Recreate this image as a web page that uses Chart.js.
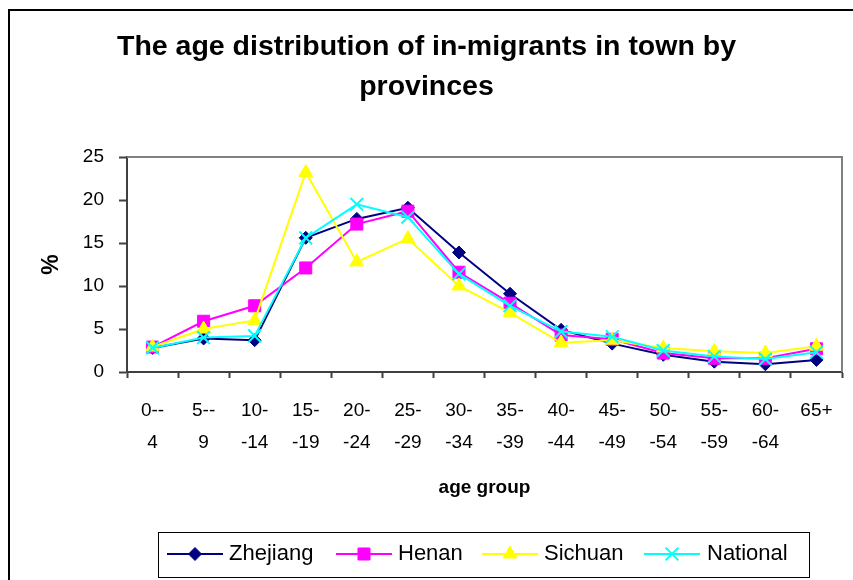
<!DOCTYPE html>
<html><head><meta charset="utf-8">
<script src="https://cdn.jsdelivr.net/npm/chart.js@4.4.1/dist/chart.umd.min.js"></script>
<style>
html,body{margin:0;padding:0;background:#fff;overflow:hidden;}
#wrap{position:relative;width:853px;height:580px;overflow:hidden;}
#frame{position:absolute;left:8px;top:9px;width:900px;height:700px;border:2px solid #000;box-sizing:border-box;pointer-events:none;}
canvas{position:absolute;left:0;top:0;}
</style></head><body>
<div id="wrap"><canvas id="c" width="853" height="580"></canvas><div id="frame"></div></div>
<script>
const categories = [["0--","4"],["5--","9"],["10-","-14"],["15-","-19"],["20-","-24"],["25-","-29"],["30-","-34"],["35-","-39"],["40-","-44"],["45-","-49"],["50-","-54"],["55-","-59"],["60-","-64"],["65+"]];
const zhejiang = [2.8,3.9,3.7,15.6,17.8,19.1,13.9,9.1,4.9,3.3,2.0,1.2,0.9,1.4];
const henan    = [2.9,5.9,7.7,12.1,17.2,18.7,11.6,8.0,4.3,3.8,2.2,1.6,1.6,2.7];
const sichuan  = [2.9,5.0,6.0,23.2,12.8,15.5,10.0,6.9,3.4,3.7,2.8,2.4,2.2,3.0];
const national = [2.8,4.0,4.2,15.6,19.5,18.0,11.4,7.7,4.7,4.1,2.5,1.8,1.5,2.3];
const yTicks = [0,5,10,15,20,25];
const seriesNames = ["Zhejiang","Henan","Sichuan","National"];

const FONT = "'Liberation Sans', Arial, sans-serif";
const styles = [
  {color:'#000080', pointStyle:'rectRot', radius:6.5, bw:1},
  {color:'#FF00FF', pointStyle:'rect', radius:8.5, bw:1},
  {color:'#FFFF00', pointStyle:'triangle', radius:8, bw:1},
  {color:'#00FFFF', pointStyle:'crossRot', radius:9, bw:2}
];
const seriesData = [zhejiang, henan, sichuan, national];

const datasets = seriesNames.map((n,i)=>({
  label:n, data:seriesData[i],
  borderColor:styles[i].color, backgroundColor:styles[i].color,
  pointStyle:styles[i].pointStyle, pointRadius:styles[i].radius,
  pointBorderWidth:styles[i].bw, pointBackgroundColor:styles[i].color, pointBorderColor:styles[i].color,
  borderWidth:2, tension:0, order:3-i
}));

const framePlugin = {
  id:'frame',
  beforeDatasetsDraw(chart){
    const {ctx, chartArea:a} = chart;
    ctx.save();
    ctx.strokeStyle='#808080'; ctx.lineWidth=2;
    ctx.beginPath();
    ctx.moveTo(a.left, a.top); ctx.lineTo(a.right, a.top); ctx.lineTo(a.right, a.bottom);
    ctx.stroke();
    ctx.restore();
  }
};

const legendPlugin = {
  id:'customLegend',
  afterDraw(chart){
    const ctx = chart.ctx;
    ctx.save();
    ctx.strokeStyle='#000'; ctx.lineWidth=1;
    ctx.strokeRect(158.5, 532.5, 651, 45);
    const lineX = [167, 336, 482, 644];
    const textX = [229, 398, 544, 707];
    const cy = 554;
    ctx.font = "22px " + FONT;
    ctx.textBaseline='middle';
    ctx.fillStyle='#000';
    chart.data.datasets.forEach((ds,i)=>{
      ctx.strokeStyle = ds.borderColor; ctx.lineWidth=2;
      ctx.beginPath(); ctx.moveTo(lineX[i], cy); ctx.lineTo(lineX[i]+56, cy); ctx.stroke();
      ctx.fillStyle = ds.pointBackgroundColor; ctx.strokeStyle = ds.pointBorderColor; ctx.lineWidth = ds.pointBorderWidth;
      Chart.helpers.drawPoint(ctx, {pointStyle: ds.pointStyle, radius: ds.pointRadius, rotation:0, borderWidth: ds.pointBorderWidth}, lineX[i]+28, cy);
      ctx.fillStyle='#000';
      ctx.fillText(ds.label, textX[i], cy);
    });
    ctx.restore();
  }
};

new Chart(document.getElementById('c'), {
  type:'line',
  data:{labels:categories, datasets},
  options:{
    responsive:false, devicePixelRatio:1, animation:false,
    layout:{padding:{left:10, right:10, top:0, bottom:68}},
    plugins:{
      legend:{display:false}, tooltip:{enabled:false},
      title:{display:true, text:['The age distribution of in-migrants in town by','provinces'],
        color:'#000', font:{family:FONT, size:28.5, weight:'bold', lineHeight:40/28.5}, padding:{top:27, bottom:50}}
    },
    scales:{
      x:{
        type:'category', offset:true,
        grid:{offset:true, drawOnChartArea:false, drawTicks:true, tickLength:6, tickColor:'#404040', tickWidth:2},
        border:{color:'#404040', width:2},
        ticks:{color:'#000', font:{family:FONT, size:19, lineHeight:32/19}, padding:17, maxRotation:0, minRotation:0, autoSkip:false},
        title:{display:true, text:'age group', color:'#000', font:{family:FONT, size:19, weight:'bold', lineHeight:1.2}, padding:{top:0,bottom:13}},
        afterFit(s){ s.height = 140; }
      },
      y:{
        min:0, max:25,
        afterBuildTicks(s){ s.ticks = yTicks.map(v=>({value:v})); },
        grid:{drawOnChartArea:false, drawTicks:true, tickLength:8, tickColor:'#404040', tickWidth:2},
        border:{color:'#404040', width:2},
        ticks:{color:'#000', font:{family:FONT, size:19}, padding:15},
        title:{display:true, text:'%', color:'#000', font:{family:FONT, size:23, weight:'bold', lineHeight:1.2}, padding:{top:28,bottom:0}},
        afterFit(s){ s.width = 117; }
      }
    }
  },
  plugins:[framePlugin, legendPlugin]
});
</script>
</body></html>
